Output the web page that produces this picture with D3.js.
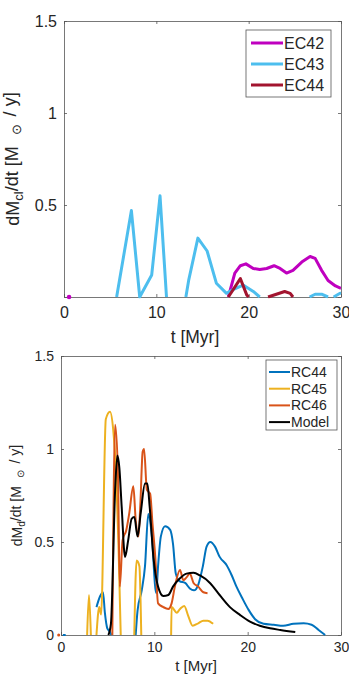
<!DOCTYPE html>
<html>
<head>
<meta charset="utf-8">
<script src="https://d3js.org/d3.v7.min.js"></script>
<style>
  body { margin: 0; background: #fff; }
  svg text { font-family: "Liberation Sans", Arial, sans-serif; fill: #262626; }
  .axis path, .axis line { stroke: #555; stroke-width: 0.8; }
</style>
</head>
<body>
<div id="chart"></div>
<script>
// ---- data (t in Myr, rate in Msun/yr); null = gap ----
var xTicks = [0, 10, 20, 30];
var yTicks = [0, 0.5, 1, 1.5];

var ec42T = [17.8, 18.5, 19.1, 19.7, 20.5, 21.2, 21.95, 22.75, 23.4, 24.1, 24.8, 25.75, 26.65, 27.2, 27.9, 28.6, 29.4, 30];
var ec42V = [0, 0.13, 0.17, 0.18, 0.155, 0.15, 0.155, 0.17, 0.155, 0.13, 0.145, 0.19, 0.22, 0.21, 0.145, 0.09, 0.06, 0.047];

var ec43T = [5.7, 7.3, 8.2, 9.5, 10.4, 11.1, null, 13.2, 13.5, 14.5, 15.5, 16.5, 17.6, 18.3, 19.4, 20.5, 21.2, null, 26.6, 27.2, 27.9, 28.6, null, 29.2, 29.9, 30];
var ec43V = [0, 0.47, 0, 0.12, 0.55, 0, null, 0, 0.09, 0.32, 0.25, 0.075, 0.02, 0.04, 0.065, 0.03, 0, null, 0, 0.015, 0.015, 0, null, 0, 0.02, 0.02];

var ec44T = [17.8, 19.1, 19.8, 20.0, null, 22.1, 23.0, 23.9, 24.5, 24.8];
var ec44V = [0, 0.1, 0.01, 0, null, 0, 0.015, 0.03, 0.02, 0];

var rc44T = [0.2, 0.5, null, 3.8, 4.2, 4.5, 4.7, 4.96, 5.2, 5.4, null, 8.0, 8.2, 8.65, 9.0, 9.35, 9.7, 10.2, 10.4, 10.7, 11.15, 11.7, 12.0, 12.3, 12.7, 13.3, 13.8, 14.25, 14.7, 15.2, 15.6, 16.0, 16.5, 17.0, 17.75, 18.3, 18.8, 19.4, 20.1, 20.8, 21.7, 22.8, 23.8, 24.9, 26.0, 26.85, 27.6, 28.3];
var rc44V = [0, 0, null, 0.15, 0.21, 0.23, 0.12, 0.036, 0.02, 0, null, 0, 0.13, 0.24, 0.37, 0.65, 0.55, 0.225, 0.37, 0.53, 0.585, 0.565, 0.49, 0.33, 0.29, 0.28, 0.25, 0.24, 0.27, 0.37, 0.475, 0.5, 0.475, 0.42, 0.375, 0.32, 0.26, 0.2, 0.135, 0.085, 0.06, 0.055, 0.05, 0.06, 0.063, 0.055, 0.027, 0];

var rc45T = [2.8, 3.0, 3.2, null, 3.8, 4.1, 4.3, 4.8, 5.25, 5.6, 5.9, 6.15, 6.4, null, 7.85, 8.1, 8.4, 8.6, null, 11.8, 11.85, 12.4, 12.75, 13.2, 13.65, 14.1, 14.7, 15.25, 15.7, 16.3];
var rc45V = [0, 0.215, 0, null, 0, 0.15, 0.11, 1.16, 1.2, 1.1, 0.87, 0.5, 0, null, 0, 0.40, 0.37, 0, null, 0, 0.15, 0.12, 0.14, 0.156, 0.1, 0.05, 0.063, 0.077, 0.077, 0.06];

var rc46T = [5.5, 5.8, 6.1, 6.3, 6.6, 7.0, 7.3, 7.75, 8.0, 8.3, 8.5, 8.75, 8.9, 9.2, 9.55, 9.8, 10.1, 10.4, 10.96, 11.5, 11.85, 12.2, 12.75, 13.1, 13.45, 13.8, 14.2, 14.7, 15.25, 15.7];
var rc46V = [0, 1.13, 0.87, 0.26, 0.51, 0.565, 0.65, 0.8, 0.62, 0.53, 0.7, 0.985, 1.0, 0.78, 0.76, 0.6, 0.42, 0.17, 0.15, 0.14, 0.17, 0.26, 0.35, 0.295, 0.31, 0.33, 0.28, 0.26, 0.23, 0.225];

var modelT = [5.07, 5.35, 5.8, 6.04, 6.25, 6.5, 6.86, 7.2, 7.57, 7.86, 8.2, 8.54, 9.0, 9.25, 9.5, 9.9, 10.4, 10.96, 11.5, 12.0, 12.75, 13.45, 14.2, 14.9, 15.96, 17.0, 18.1, 19.2, 20.25, 21.3, 22.4, 23.5, 25.1];
var modelV = [0, 0.06, 0.78, 0.965, 0.9, 0.69, 0.42, 0.51, 0.625, 0.635, 0.53, 0.655, 0.815, 0.815, 0.69, 0.42, 0.26, 0.21, 0.215, 0.26, 0.305, 0.33, 0.335, 0.32, 0.28, 0.215, 0.15, 0.107, 0.072, 0.05, 0.036, 0.027, 0.016];

// isolated single samples drawn as dots (t, colour)
var topDots = [{t: 0.55, color: "#BF00BF"}];
var botDots = [{t: -0.25, color: "#D95319"}];

function pts(ts, vs) {
  return ts.map(function(t, i) { return {t: t, v: vs[i]}; });
}

var svg = d3.select("#chart").append("svg")
    .attr("width", 349).attr("height", 677);

function drawPanel(cfg) {
  var x = d3.scaleLinear().domain([0, 30]).range([cfg.left, cfg.right]);
  var y = d3.scaleLinear().domain([0, 1.5]).range([cfg.bottom, cfg.top]);
  var g = svg.append("g");

  var clipId = "clip" + cfg.id;
  g.append("clipPath").attr("id", clipId).append("rect")
    .attr("x", cfg.left).attr("y", cfg.top - 2)
    .attr("width", cfg.right - cfg.left).attr("height", cfg.bottom - cfg.top + 2 + cfg.lw / 2);

  // axes, ticks inside on all 4 sides
  g.append("g").attr("class", "axis")
    .attr("transform", "translate(0," + cfg.bottom + ")")
    .call(d3.axisBottom(x).tickValues(xTicks).tickSizeInner(-3).tickSizeOuter(0).tickPadding(cfg.xPad).tickFormat(d3.format("d")))
    .call(function(a) { a.selectAll("text").attr("font-size", cfg.fs).attr("fill", "#262626"); });
  g.append("g").attr("class", "axis")
    .attr("transform", "translate(0," + cfg.top + ")")
    .call(d3.axisTop(x).tickValues(xTicks).tickSizeInner(-3).tickSizeOuter(0).tickFormat(""));
  g.append("g").attr("class", "axis")
    .attr("transform", "translate(" + cfg.left + ",0)")
    .call(d3.axisLeft(y).tickValues(yTicks).tickSizeInner(-3).tickSizeOuter(0).tickPadding(7)
      .tickFormat(function(d) { return (d === 0 && !cfg.zeroY) ? "" : d; }))
    .call(function(a) { a.selectAll("text").attr("font-size", cfg.fs).attr("fill", "#262626"); });
  g.append("g").attr("class", "axis")
    .attr("transform", "translate(" + cfg.right + ",0)")
    .call(d3.axisRight(y).tickValues(yTicks).tickSizeInner(-3).tickSizeOuter(0).tickFormat(""));

  // series
  var line = d3.line()
    .defined(function(d) { return d.v != null; })
    .x(function(d) { return x(d.t); })
    .y(function(d) { return y(d.v); })
    .curve(cfg.curve);

  cfg.series.forEach(function(s) {
    g.append("path")
      .datum(pts(s.t, s.v))
      .attr("clip-path", "url(#" + clipId + ")")
      .attr("fill", "none")
      .attr("stroke", s.color)
      .attr("stroke-width", cfg.lw)
      .attr("stroke-linejoin", "round")
      .attr("d", line);
  });

  cfg.dots.forEach(function(d) {
    g.append("circle").attr("cx", x(d.t)).attr("cy", y(0)).attr("r", cfg.lw * 0.75).attr("fill", d.color);
  });

  // labels
  g.append("text").attr("x", cfg.xLabelX).attr("y", cfg.xLabelY)
    .attr("text-anchor", "middle").attr("font-size", cfg.xlfs).text("t [Myr]");

  var yl = g.append("text")
    .attr("transform", "translate(" + cfg.yLabelX + "," + (cfg.top + cfg.bottom) / 2 + ") rotate(-90)")
    .attr("text-anchor", "middle").attr("font-size", cfg.ylfs);
  yl.append("tspan").text("dM");
  yl.append("tspan").attr("dy", "0.3em").attr("font-size", cfg.ylfs * 0.72).text(cfg.sub);
  yl.append("tspan").attr("dy", "-0.3em").text("/dt [M");
  yl.append("tspan").attr("dy", "0.3em").attr("dx", cfg.ylfs * 0.6).attr("font-size", cfg.ylfs * 0.72).text("\u2299");
  yl.append("tspan").attr("dy", "-0.3em").attr("dx", cfg.ylfs * 0.45).text("/ y]");

  // legend
  var L = cfg.legend;
  g.append("rect").attr("x", L.x).attr("y", L.y).attr("width", L.w).attr("height", L.h)
    .attr("fill", "#fff").attr("stroke", "#555").attr("stroke-width", 0.8);
  cfg.series.forEach(function(s, i) {
    var yy = L.y + L.first + i * L.step;
    g.append("line").attr("x1", L.x + L.l1).attr("x2", L.x + L.l2).attr("y1", yy).attr("y2", yy)
      .attr("stroke", s.color).attr("stroke-width", cfg.lw);
    g.append("text").attr("x", L.x + L.l2 + 1).attr("y", yy).attr("dy", "0.35em")
      .attr("font-size", L.fs).text(s.name);
  });
}

drawPanel({
  id: 1, left: 64, right: 341, top: 21, bottom: 297,
  curve: d3.curveLinear, lw: 3, fs: 16, xPad: 10, zeroY: false,
  xLabelX: 195, xLabelY: 343, xlfs: 17.5,
  yLabelX: 19, ylfs: 18, sub: "cl",
  dots: topDots,
  series: [
    {name: "EC42", color: "#BF00BF", t: ec42T, v: ec42V},
    {name: "EC43", color: "#4DBEEE", t: ec43T, v: ec43V},
    {name: "EC44", color: "#A2142F", t: ec44T, v: ec44V}
  ],
  legend: {x: 246, y: 30, w: 85, h: 67, first: 13, step: 21, l1: 5, l2: 37, fs: 16}
});

drawPanel({
  id: 2, left: 61, right: 341, top: 356, bottom: 635,
  curve: d3.curveMonotoneX, lw: 2, fs: 14, xPad: 7, zeroY: true,
  xLabelX: 196, xLabelY: 671, xlfs: 15,
  yLabelX: 22, ylfs: 14, sub: "d",
  dots: botDots,
  series: [
    {name: "RC44", color: "#0072BD", t: rc44T, v: rc44V},
    {name: "RC45", color: "#EDB120", t: rc45T, v: rc45V},
    {name: "RC46", color: "#D95319", t: rc46T, v: rc46V},
    {name: "Model", color: "#000000", t: modelT, v: modelV}
  ],
  legend: {x: 266, y: 360, w: 71, h: 70, first: 12, step: 16.7, l1: 3, l2: 24, fs: 14}
});
</script>
</body>
</html>
